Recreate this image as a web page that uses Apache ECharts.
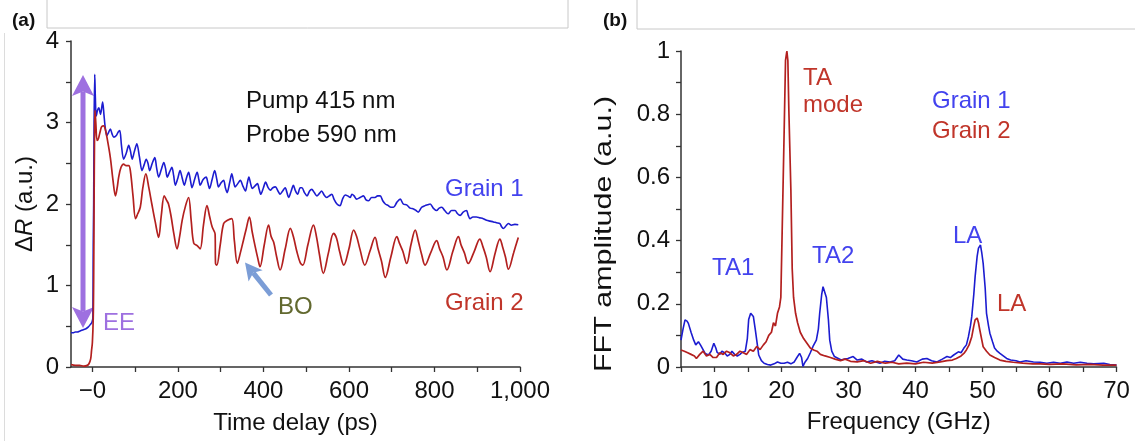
<!DOCTYPE html>
<html><head><meta charset="utf-8">
<script src="https://cdn.jsdelivr.net/npm/echarts@6/dist/echarts.min.js"></script>
<style>html,body{margin:0;padding:0;background:#fff}#c{width:1135px;height:441px}</style>
</head><body><div id="c"></div>
<script>
// ---------- data ----------
const timeTickValues = [0,100,200,300,400,500,600,700,800,900,1000];
const timeLabelValues = [0,200,400,600,800,1000];
const timeLabelTexts = ['\u22120','200','400','600','800','1,000'];
const drTickValues = [0,0.5,1,1.5,2,2.5,3,3.5,4];
const drLabelValues = [0,1,2,3,4];
const freqTickValues = [5,10,15,20,25,30,35,40,45,50,55,60,65,70];
const freqLabelValues = [10,20,30,40,50,60,70];
const ampTickValues = [0,0.1,0.2,0.3,0.4,0.5,0.6,0.7,0.8,0.9,1];
const ampLabelValues = [0,0.2,0.4,0.6,0.8,1];

// Grain 1 transient reflectivity [time ps, dR]
const grain1Decay = [[-50,0.42],[-45,0.42],[-40,0.43],[-35,0.43],[-30,0.44],[-25,0.45],[-20,0.46],[-15,0.47],[-10,0.49],[-5,0.52],[-1,0.55],[1,0.6],[2,1.5],[3,2.0],[4,3.0],[5.5,3.59],[7,3.3],[9,3.08],[12,3.15],[15,3.18],[19,3.1],[24,3.25],[27,3.1],[30,2.94],[34,2.84],[38,2.88],[42,2.92],[46,2.86],[50,2.82],[56,2.84],[60,2.88],[64,2.9],[68,2.72],[73,2.55],[79,2.62],[85,2.72],[89,2.65],[93,2.55],[98,2.64],[104,2.74],[110,2.58],[116,2.41],[121,2.48],[126,2.55],[130,2.5],[134,2.41],[140,2.5],[146,2.57],[150,2.45],[155,2.33],[161,2.42],[167,2.51],[171,2.44],[175,2.33],[181,2.4],[186,2.45],[190,2.35],[194,2.23],[200,2.32],[205,2.41],[210,2.32],[215,2.23],[220,2.32],[225,2.39],[229,2.3],[233,2.2],[239,2.3],[245,2.39],[249,2.3],[252,2.23],[259,2.3],[266,2.33],[270,2.26],[274,2.19],[280,2.3],[286,2.41],[291,2.3],[295,2.21],[301,2.26],[307,2.29],[311,2.2],[315,2.14],[321,2.26],[326,2.37],[330,2.28],[334,2.21],[340,2.25],[346,2.29],[352,2.22],[358,2.16],[362,2.25],[366,2.33],[370,2.25],[374,2.19],[380,2.22],[386,2.25],[390,2.18],[394,2.12],[400,2.2],[405,2.27],[411,2.2],[416,2.17],[422,2.2],[428,2.21],[434,2.16],[439,2.12],[445,2.16],[451,2.2],[455,2.14],[459,2.08],[465,2.16],[470,2.23],[475,2.16],[480,2.12],[486,2.2],[490,2.2],[496,2.14],[502,2.1],[508,2.16],[513,2.18],[519,2.14],[525,2.1],[531,2.13],[536,2.16],[542,2.11],[548,2.08],[554,2.1],[560,2.12],[565,2.06],[572,2.0],[579,1.98],[585,2.06],[591,2.11],[597,2.1],[603,2.08],[607,2.12],[612,2.1],[618,2.06],[626,2.08],[634,2.1],[640,2.05],[646,2.04],[653,2.08],[661,2.08],[667,2.1],[673,2.1],[679,2.04],[685,2.0],[692,1.98],[698,1.96],[704,1.96],[712,2.02],[720,2.06],[727,2.0],[735,1.99],[743,1.95],[751,1.94],[757,1.92],[762,1.9],[770,1.96],[778,1.98],[784,1.99],[790,2.0],[797,1.95],[805,1.92],[811,1.95],[817,1.96],[824,1.92],[832,1.88],[840,1.92],[848,1.92],[854,1.88],[860,1.86],[867,1.9],[875,1.92],[879,1.86],[883,1.82],[890,1.84],[898,1.84],[906,1.83],[914,1.82],[922,1.8],[930,1.79],[938,1.78],[945,1.77],[953,1.76],[957,1.72],[961,1.7],[967,1.73],[973,1.76],[980,1.74],[988,1.75],[996,1.745]];

// Grain 2 transient reflectivity [time ps, dR]
const grain2Decay = [[-50,0.03],[-40,0.02],[-30,0.02],[-20,0.01],[-12,0.02],[-8,0.04],[-4,0.1],[-2,0.2],[0,0.3],[2,0.6],[3,1.06],[4,2.0],[5,2.8],[6,3.15],[8,3.0],[11,2.78],[14,2.8],[18.7,2.9],[22,2.95],[26.5,2.96],[30,2.92],[34,2.82],[42,2.57],[48,2.3],[54,2.1],[58,2.2],[61.5,2.33],[67,2.45],[73,2.49],[79,2.47],[85,2.47],[89,2.4],[95,2.1],[101,1.82],[106,1.88],[112,1.96],[118,2.2],[125,2.37],[132,2.2],[139,2.0],[147,1.78],[155,1.59],[161,1.85],[168,2.1],[173,2.05],[178,2.0],[184,1.85],[191,1.62],[198,1.45],[204,1.6],[210,1.8],[218,1.98],[225,2.08],[231,1.8],[237,1.52],[245,1.49],[252,1.45],[260,1.75],[268,1.98],[274,1.85],[280,1.72],[287,1.63],[288,1.27],[291,1.25],[299,1.5],[307,1.76],[316,1.8],[326,1.82],[332,1.55],[339,1.27],[346,1.4],[353,1.55],[360,1.7],[367,1.84],[374,1.65],[381,1.47],[387,1.33],[392,1.23],[402,1.5],[412,1.74],[418,1.6],[424,1.53],[431,1.35],[439,1.19],[451,1.45],[463,1.7],[470,1.6],[478,1.42],[486,1.28],[492,1.25],[504,1.5],[517,1.74],[524,1.6],[531,1.38],[540,1.15],[552,1.4],[564,1.64],[571,1.58],[578,1.42],[588,1.25],[600,1.45],[611,1.68],[618,1.6],[626,1.44],[637,1.25],[649,1.42],[661,1.59],[668,1.45],[676,1.3],[685,1.1],[698,1.35],[712,1.6],[718,1.52],[726,1.42],[735,1.27],[745,1.5],[755,1.68],[762,1.55],[770,1.38],[778,1.25],[791,1.4],[805,1.55],[812,1.45],[820,1.35],[829,1.19],[843,1.42],[856,1.6],[862,1.5],[870,1.4],[879,1.27],[893,1.42],[906,1.57],[913,1.48],[921,1.35],[930,1.17],[942,1.4],[953,1.57],[959,1.48],[966,1.35],[973,1.2],[985,1.4],[996,1.59]];

// Grain 1 FFT amplitude [GHz, a.u.]
const grain1FFT = [[5,0.085],[5.3,0.12],[5.6,0.149],[5.9,0.145],[6.1,0.138],[6.5,0.11],[6.9,0.085],[7.2,0.07],[7.6,0.08],[7.9,0.07],[8.1,0.065],[8.6,0.043],[9.1,0.038],[9.5,0.05],[9.9,0.075],[10.2,0.06],[10.4,0.046],[10.8,0.04],[11.1,0.05],[11.5,0.045],[11.9,0.035],[12.3,0.04],[12.6,0.05],[13,0.04],[13.4,0.035],[13.8,0.04],[14.1,0.046],[14.6,0.05],[14.9,0.09],[15.1,0.15],[15.4,0.17],[15.6,0.175],[15.8,0.16],[16.1,0.117],[16.4,0.07],[16.6,0.038],[17,0.02],[17.4,0.012],[17.9,0.008],[18.4,0.006],[18.9,0.01],[19.4,0.016],[19.9,0.012],[20.4,0.012],[20.9,0.015],[21.4,0.01],[21.9,0.016],[22.3,0.03],[22.7,0.043],[23,0.03],[23.2,0.002],[23.5,0.015],[23.9,0.027],[24.3,0.045],[24.7,0.065],[25.2,0.085],[25.5,0.12],[25.7,0.17],[26,0.23],[26.2,0.254],[26.4,0.25],[26.7,0.22],[27,0.15],[27.2,0.085],[27.5,0.05],[27.9,0.033],[28.4,0.028],[28.9,0.022],[29.4,0.025],[29.9,0.027],[30.3,0.03],[30.7,0.033],[31.3,0.022],[32,0.025],[32.7,0.016],[33.5,0.02],[34.2,0.015],[34.7,0.012],[35.4,0.018],[36.2,0.016],[36.9,0.02],[37.5,0.038],[38.1,0.025],[38.7,0.022],[39.4,0.02],[40.2,0.016],[41,0.025],[41.7,0.027],[42.4,0.02],[43.2,0.016],[44,0.025],[44.7,0.033],[45.2,0.03],[45.7,0.038],[46.4,0.048],[46.8,0.045],[47.2,0.059],[47.6,0.07],[47.9,0.096],[48.2,0.13],[48.4,0.16],[48.7,0.23],[48.9,0.286],[49.2,0.35],[49.4,0.376],[49.7,0.386],[49.9,0.36],[50.1,0.328],[50.4,0.25],[50.6,0.17],[50.9,0.13],[51.1,0.107],[51.5,0.08],[51.8,0.06],[52.2,0.05],[52.6,0.043],[53.1,0.035],[53.6,0.027],[54.2,0.022],[55,0.02],[55.6,0.016],[56.5,0.02],[57.6,0.016],[58.6,0.015],[59.6,0.012],[60.6,0.015],[61.6,0.012],[62.6,0.016],[63.6,0.012],[64.6,0.015],[65.6,0.012],[66.6,0.01],[68.1,0.012],[69,0.008],[70,0.006]];

// Grain 2 FFT amplitude [GHz, a.u.]
const grain2FFT = [[5,0.054],[5.5,0.05],[6,0.045],[6.5,0.04],[7,0.035],[7.3,0.027],[7.8,0.04],[8.3,0.05],[8.8,0.035],[9.3,0.04],[9.8,0.03],[10.3,0.03],[10.8,0.045],[11.3,0.04],[11.8,0.05],[12.3,0.045],[12.8,0.035],[13.3,0.04],[13.8,0.05],[14.3,0.045],[14.8,0.04],[15.3,0.055],[15.8,0.05],[16.3,0.065],[16.8,0.055],[17.3,0.07],[17.7,0.08],[18.1,0.1],[18.5,0.11],[18.8,0.14],[19.1,0.13],[19.4,0.17],[19.7,0.19],[19.9,0.22],[20.1,0.43],[20.4,0.75],[20.6,0.97],[20.8,1.0],[20.95,0.97],[21.1,0.81],[21.4,0.56],[21.6,0.31],[21.8,0.22],[22.1,0.17],[22.4,0.14],[22.8,0.11],[23.3,0.09],[23.8,0.075],[24.3,0.06],[24.8,0.054],[25.3,0.05],[25.8,0.04],[26.5,0.035],[27.3,0.03],[28,0.025],[28.8,0.02],[29.5,0.025],[30.3,0.018],[31.3,0.016],[32.3,0.02],[33.3,0.012],[34.3,0.018],[35.5,0.012],[36.5,0.015],[37.5,0.01],[38.7,0.012],[40,0.01],[41.2,0.015],[42.5,0.012],[43.7,0.016],[44.7,0.02],[45.5,0.022],[46.1,0.027],[46.8,0.035],[47.3,0.045],[47.6,0.054],[48,0.07],[48.4,0.096],[48.7,0.13],[48.9,0.149],[49.2,0.155],[49.4,0.14],[49.6,0.117],[49.9,0.085],[50.1,0.064],[50.6,0.05],[51.1,0.038],[51.8,0.03],[52.6,0.022],[53.5,0.018],[54.6,0.015],[56,0.012],[57.5,0.01],[58.6,0.01],[60,0.008],[62,0.01],[64,0.007],[66,0.008],[68,0.006],[70,0.006]];

// ---------- styling ----------
const FONT = 'Liberation Sans, Arial, Helvetica, sans-serif';
const AXIS = '#333';
const BLUE = '#1c1cd0', RED = '#b3201f';
const BLUE_T = '#4343ee', RED_T = '#c0352a';
const PURPLE = '#9e70e0', LIGHTBLUE = '#7b9dd6', OLIVE = '#62692f';

function axisCommon(tickVals, labelVals, fmt, margin){
  return {
    type:'value',
    axisLine:{show:true, onZero:false, lineStyle:{color:AXIS, width:1.5}},
    axisTick:{show:true, customValues:tickVals, length:5, lineStyle:{color:AXIS, width:1.3}},
    axisLabel:{customValues:labelVals, formatter:fmt, margin:margin, fontSize:24, fontFamily:FONT, color:'#111'},
    splitLine:{show:false}
  };
}

function txt(x, y, s, color, extra){
  return Object.assign({type:'text', x:x, y:y, silent:true,
    style:{text:s, fill:color, fontSize:24, fontFamily:FONT, verticalAlign:'middle', align:'left'}}, extra||{});
}

function arrowHead(tx, ty, fx, fy, len, half){
  const dx = tx-fx, dy = ty-fy, L = Math.hypot(dx,dy);
  const ux = dx/L, uy = dy/L, px = -uy, py = ux;
  const bx = tx-ux*len, by = ty-uy*len;
  const nx = tx-ux*len*0.78, ny = ty-uy*len*0.78;
  return {pts:[[tx,ty],[bx+px*half,by+py*half],[nx,ny],[bx-px*half,by-py*half]], base:[nx,ny]};
}

function arrowGraphics(x1,y1,x2,y2,len,half,w,color,both){
  const out = [];
  const h2 = arrowHead(x2,y2,x1,y1,len,half);
  let s = [x1,y1];
  if(both){
    const h1 = arrowHead(x1,y1,x2,y2,len,half);
    out.push({type:'polygon', silent:true, shape:{points:h1.pts}, style:{fill:color}});
    s = h1.base;
  }
  out.push({type:'line', silent:true, shape:{x1:s[0],y1:s[1],x2:h2.base[0],y2:h2.base[1]}, style:{stroke:color, lineWidth:w}});
  out.push({type:'polygon', silent:true, shape:{points:h2.pts}, style:{fill:color}});
  return out;
}

const x0 = axisCommon(timeTickValues, timeLabelValues, v => timeLabelTexts[timeLabelValues.indexOf(v)] ?? '', 12);
Object.assign(x0, {gridIndex:0, min:-50, max:1000, name:'Time delay (ps)', nameLocation:'middle', nameGap:44,
  nameTextStyle:{fontSize:24, fontFamily:FONT, color:'#111'}});
const y0 = axisCommon(drTickValues, drLabelValues, v => String(v), 12);
Object.assign(y0, {gridIndex:0, min:0, max:4, name:'{d|\u0394}{i|R}{d| (a.u.)}', nameLocation:'middle', nameGap:34, nameRotate:90,
  nameTextStyle:{fontSize:24, fontFamily:FONT, color:'#111',
    rich:{d:{fontSize:24, fontFamily:FONT, color:'#111'}, i:{fontSize:24, fontFamily:FONT, fontStyle:'italic', color:'#111'}}}});
const x1 = axisCommon(freqTickValues, freqLabelValues, v => String(v), 12);
Object.assign(x1, {gridIndex:1, min:5, max:70, name:'Frequency (GHz)', nameLocation:'middle', nameGap:43,
  nameTextStyle:{fontSize:24, fontFamily:FONT, color:'#111'}});
const y1 = axisCommon(ampTickValues, ampLabelValues, v => String(v), 11);
Object.assign(y1, {gridIndex:1, min:0, max:1});

const graphics = [
  {type:'rect', silent:true, shape:{x:47, y:-2, width:521, height:30}, style:{fill:'none', stroke:'#c8c8c8', lineWidth:1}},
  {type:'rect', silent:true, shape:{x:637, y:-2, width:500, height:31}, style:{fill:'none', stroke:'#c8c8c8', lineWidth:1}},
  {type:'line', silent:true, shape:{x1:4.5, y1:33, x2:4.5, y2:441}, style:{stroke:'#dcdcdc', lineWidth:1}},
  {type:'text', x:12, y:20.5, silent:true, style:{text:'(a)', fill:'#111', fontSize:19, fontWeight:'bold', fontFamily:FONT, verticalAlign:'middle'}},
  {type:'text', x:603, y:20.5, silent:true, style:{text:'(b)', fill:'#111', fontSize:19, fontWeight:'bold', fontFamily:FONT, verticalAlign:'middle'}},
  // right y-axis name (stretched along its length as in the reference)
  {type:'text', x:604, y:234, rotation:Math.PI/2, scaleX:1.27, silent:true,
    style:{text:'FFT amplitude (a.u.)', fill:'#111', fontSize:24, fontFamily:FONT, align:'center', verticalAlign:'middle'}},
  // panel (a) annotations
  txt(246, 101, 'Pump 415 nm', '#111'),
  txt(246, 135, 'Probe 590 nm', '#111'),
  txt(445, 189, 'Grain 1', BLUE_T),
  txt(445, 303, 'Grain 2', RED_T),
  txt(103, 323, 'EE', PURPLE),
  txt(278, 307, 'BO', OLIVE),
  // panel (b) annotations
  txt(803, 78, 'TA', RED_T),
  txt(803, 105, 'mode', RED_T),
  txt(932, 101, 'Grain 1', BLUE_T),
  txt(932, 131, 'Grain 2', RED_T),
  txt(712, 268, 'TA1', BLUE_T),
  txt(812, 256, 'TA2', BLUE_T),
  txt(953, 236, 'LA', BLUE_T),
  txt(997, 304, 'LA', RED_T)
].concat(arrowGraphics(83, 328, 83, 75, 21, 11, 5, PURPLE, true))
 .concat(arrowGraphics(271, 295, 245, 262.5, 17, 9, 5, LIGHTBLUE, false));

const lineSeries = (name, data, color, xi, w, sm) => ({
  name, type:'line', xAxisIndex:xi, yAxisIndex:xi, data, showSymbol:false, symbol:'none', smooth:sm,
  lineStyle:{color, width:w}, itemStyle:{color}, animation:false, silent:true
});

const option = {
  animation:false,
  backgroundColor:'#fff',
  grid:[{left:71, top:41, width:449, height:326}, {left:681, top:51, width:435.5, height:316}],
  xAxis:[x0, x1],
  yAxis:[y0, y1],
  series:[
    lineSeries('Grain 1', grain1Decay, BLUE, 0, 1.6, 0.3),
    lineSeries('Grain 2', grain2Decay, RED, 0, 1.7, 0.35),
    lineSeries('Grain 1 FFT', grain1FFT, BLUE, 1, 1.6, false),
    lineSeries('Grain 2 FFT', grain2FFT, RED, 1, 1.7, false)
  ],
  graphic:graphics
};
const chart = echarts.init(document.getElementById('c'), null, {renderer:'canvas'});
chart.setOption(option);
</script></body></html>
